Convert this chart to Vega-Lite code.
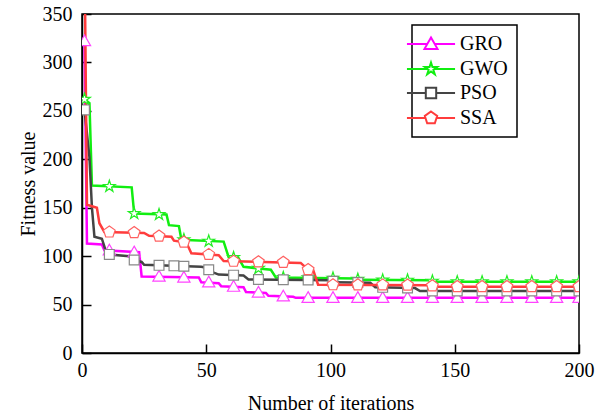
{
  "$schema": "https://vega.github.io/schema/vega-lite/v6.json",
  "width": 497,
  "height": 339,
  "autosize": {"type": "none"},
  "padding": {"left": 82, "top": 14, "right": 29, "bottom": 64},
  "background": "white",
  "config": {
    "view": {"stroke": "black", "strokeWidth": 1.5},
    "font": "Liberation Serif, Times New Roman, serif",
    "axis": {
      "domainColor": "black", "domainWidth": 1.5,
      "tickColor": "black", "tickWidth": 1.5, "tickSize": -9,
      "labelFont": "Liberation Serif, Times New Roman, serif", "labelFontSize": 20, "labelColor": "black",
      "titleFont": "Liberation Serif, Times New Roman, serif", "titleFontSize": 20, "titleFontWeight": "normal", "titleColor": "black",
      "grid": false, "labelFlush": false, "labelOverlap": false
    },
    "legend": {"strokeWidth": 1.5}
  },
  "datasets": {
    "curves": [
      {"series": "GRO", "iter": 1, "value": 322}, {"series": "GRO", "iter": 2, "value": 113}, {"series": "GRO", "iter": 8, "value": 112}, {"series": "GRO", "iter": 9, "value": 106}, {"series": "GRO", "iter": 23, "value": 104}, {"series": "GRO", "iter": 24, "value": 79}, {"series": "GRO", "iter": 47, "value": 78}, {"series": "GRO", "iter": 48, "value": 73}, {"series": "GRO", "iter": 55, "value": 72}, {"series": "GRO", "iter": 56, "value": 69}, {"series": "GRO", "iter": 65, "value": 68}, {"series": "GRO", "iter": 66, "value": 63}, {"series": "GRO", "iter": 74, "value": 62}, {"series": "GRO", "iter": 75, "value": 59}, {"series": "GRO", "iter": 85, "value": 58}, {"series": "GRO", "iter": 86, "value": 57}, {"series": "GRO", "iter": 200, "value": 57},
      {"series": "GWO", "iter": 1, "value": 262}, {"series": "GWO", "iter": 3, "value": 258}, {"series": "GWO", "iter": 4, "value": 173}, {"series": "GWO", "iter": 20, "value": 171}, {"series": "GWO", "iter": 21, "value": 144}, {"series": "GWO", "iter": 34, "value": 143}, {"series": "GWO", "iter": 35, "value": 132}, {"series": "GWO", "iter": 39, "value": 131}, {"series": "GWO", "iter": 40, "value": 117}, {"series": "GWO", "iter": 57, "value": 115}, {"series": "GWO", "iter": 59, "value": 99}, {"series": "GWO", "iter": 63, "value": 98}, {"series": "GWO", "iter": 65, "value": 89}, {"series": "GWO", "iter": 76, "value": 86}, {"series": "GWO", "iter": 78, "value": 78}, {"series": "GWO", "iter": 110, "value": 77}, {"series": "GWO", "iter": 112, "value": 75.5}, {"series": "GWO", "iter": 140, "value": 75}, {"series": "GWO", "iter": 142, "value": 73.5}, {"series": "GWO", "iter": 200, "value": 73.5},
      {"series": "PSO", "iter": 1, "value": 251}, {"series": "PSO", "iter": 3, "value": 202}, {"series": "PSO", "iter": 4, "value": 150}, {"series": "PSO", "iter": 5, "value": 120}, {"series": "PSO", "iter": 8, "value": 118}, {"series": "PSO", "iter": 10, "value": 102}, {"series": "PSO", "iter": 19, "value": 100}, {"series": "PSO", "iter": 21, "value": 96}, {"series": "PSO", "iter": 24, "value": 94}, {"series": "PSO", "iter": 25, "value": 91}, {"series": "PSO", "iter": 48, "value": 89}, {"series": "PSO", "iter": 50, "value": 88}, {"series": "PSO", "iter": 52, "value": 84}, {"series": "PSO", "iter": 55, "value": 81}, {"series": "PSO", "iter": 65, "value": 80}, {"series": "PSO", "iter": 67, "value": 76}, {"series": "PSO", "iter": 100, "value": 75}, {"series": "PSO", "iter": 102, "value": 73}, {"series": "PSO", "iter": 116, "value": 72.5}, {"series": "PSO", "iter": 118, "value": 68}, {"series": "PSO", "iter": 134, "value": 67}, {"series": "PSO", "iter": 136, "value": 64}, {"series": "PSO", "iter": 200, "value": 64},
      {"series": "SSA", "iter": 1, "value": 420}, {"series": "SSA", "iter": 2, "value": 153}, {"series": "SSA", "iter": 6, "value": 150}, {"series": "SSA", "iter": 7, "value": 134}, {"series": "SSA", "iter": 9, "value": 125}, {"series": "SSA", "iter": 25, "value": 124}, {"series": "SSA", "iter": 27, "value": 121}, {"series": "SSA", "iter": 36, "value": 120}, {"series": "SSA", "iter": 37, "value": 116}, {"series": "SSA", "iter": 42, "value": 114}, {"series": "SSA", "iter": 44, "value": 103}, {"series": "SSA", "iter": 55, "value": 101}, {"series": "SSA", "iter": 57, "value": 95}, {"series": "SSA", "iter": 88, "value": 93}, {"series": "SSA", "iter": 91, "value": 86}, {"series": "SSA", "iter": 93, "value": 86}, {"series": "SSA", "iter": 95, "value": 70.5}, {"series": "SSA", "iter": 140, "value": 70}, {"series": "SSA", "iter": 142, "value": 68.5}, {"series": "SSA", "iter": 200, "value": 68.5}
    ],
    "markers": [
      {"series": "GRO", "iter": 1, "value": 322}, {"series": "GRO", "iter": 11, "value": 106}, {"series": "GRO", "iter": 21, "value": 104}, {"series": "GRO", "iter": 31, "value": 79}, {"series": "GRO", "iter": 41, "value": 78}, {"series": "GRO", "iter": 51, "value": 73}, {"series": "GRO", "iter": 61, "value": 68.5}, {"series": "GRO", "iter": 71, "value": 62.5}, {"series": "GRO", "iter": 81, "value": 58.5}, {"series": "GRO", "iter": 91, "value": 57}, {"series": "GRO", "iter": 101, "value": 57}, {"series": "GRO", "iter": 111, "value": 57}, {"series": "GRO", "iter": 121, "value": 57}, {"series": "GRO", "iter": 131, "value": 57}, {"series": "GRO", "iter": 141, "value": 57}, {"series": "GRO", "iter": 151, "value": 57}, {"series": "GRO", "iter": 161, "value": 57}, {"series": "GRO", "iter": 171, "value": 57}, {"series": "GRO", "iter": 181, "value": 57}, {"series": "GRO", "iter": 191, "value": 57}, {"series": "GRO", "iter": 200, "value": 57},
      {"series": "GWO", "iter": 1, "value": 262}, {"series": "GWO", "iter": 11, "value": 172}, {"series": "GWO", "iter": 21, "value": 144}, {"series": "GWO", "iter": 31, "value": 143}, {"series": "GWO", "iter": 41, "value": 117}, {"series": "GWO", "iter": 51, "value": 115.5}, {"series": "GWO", "iter": 61, "value": 98.5}, {"series": "GWO", "iter": 71, "value": 87.4}, {"series": "GWO", "iter": 81, "value": 77.9}, {"series": "GWO", "iter": 91, "value": 77.6}, {"series": "GWO", "iter": 101, "value": 77.3}, {"series": "GWO", "iter": 111, "value": 76.2}, {"series": "GWO", "iter": 121, "value": 75.3}, {"series": "GWO", "iter": 131, "value": 75.2}, {"series": "GWO", "iter": 141, "value": 74.2}, {"series": "GWO", "iter": 151, "value": 73.5}, {"series": "GWO", "iter": 161, "value": 73.5}, {"series": "GWO", "iter": 171, "value": 73.5}, {"series": "GWO", "iter": 181, "value": 73.5}, {"series": "GWO", "iter": 191, "value": 73.5}, {"series": "GWO", "iter": 200, "value": 73.5},
      {"series": "PSO", "iter": 1, "value": 251}, {"series": "PSO", "iter": 11, "value": 101.8}, {"series": "PSO", "iter": 21, "value": 96}, {"series": "PSO", "iter": 31, "value": 90.5}, {"series": "PSO", "iter": 37, "value": 90}, {"series": "PSO", "iter": 41, "value": 89.6}, {"series": "PSO", "iter": 51, "value": 86}, {"series": "PSO", "iter": 61, "value": 80.4}, {"series": "PSO", "iter": 71, "value": 75.9}, {"series": "PSO", "iter": 81, "value": 75.6}, {"series": "PSO", "iter": 91, "value": 75.3}, {"series": "PSO", "iter": 101, "value": 74}, {"series": "PSO", "iter": 111, "value": 72.7}, {"series": "PSO", "iter": 121, "value": 67.8}, {"series": "PSO", "iter": 131, "value": 67.2}, {"series": "PSO", "iter": 141, "value": 64}, {"series": "PSO", "iter": 151, "value": 64}, {"series": "PSO", "iter": 161, "value": 64}, {"series": "PSO", "iter": 171, "value": 64}, {"series": "PSO", "iter": 181, "value": 64}, {"series": "PSO", "iter": 191, "value": 64}, {"series": "PSO", "iter": 200, "value": 64},
      {"series": "SSA", "iter": 1, "value": 420}, {"series": "SSA", "iter": 11, "value": 124.9}, {"series": "SSA", "iter": 21, "value": 124.2}, {"series": "SSA", "iter": 31, "value": 120.6}, {"series": "SSA", "iter": 41, "value": 114.4}, {"series": "SSA", "iter": 51, "value": 101.7}, {"series": "SSA", "iter": 61, "value": 94.7}, {"series": "SSA", "iter": 71, "value": 94.1}, {"series": "SSA", "iter": 81, "value": 93.5}, {"series": "SSA", "iter": 91, "value": 86}, {"series": "SSA", "iter": 101, "value": 70.4}, {"series": "SSA", "iter": 111, "value": 70.3}, {"series": "SSA", "iter": 121, "value": 70.2}, {"series": "SSA", "iter": 131, "value": 70.1}, {"series": "SSA", "iter": 141, "value": 69.2}, {"series": "SSA", "iter": 151, "value": 68.5}, {"series": "SSA", "iter": 161, "value": 68.5}, {"series": "SSA", "iter": 171, "value": 68.5}, {"series": "SSA", "iter": 181, "value": 68.5}, {"series": "SSA", "iter": 191, "value": 68.5}, {"series": "SSA", "iter": 200, "value": 68.5}
    ]
  },
  "resolve": {"scale": {"shape": "independent", "color": "independent"}},
  "layer": [
    {
      "data": {"name": "curves"},
      "mark": {"type": "line", "clip": true, "strokeWidth": 2.5},
      "encoding": {
        "x": {"field": "iter", "type": "quantitative", "scale": {"domain": [0, 200], "nice": false, "zero": false},
              "axis": {"values": [0, 50, 100, 150, 200], "title": "Number of iterations", "labelPadding": 16, "titlePadding": 13}},
        "y": {"field": "value", "type": "quantitative", "scale": {"domain": [0, 350], "nice": false},
              "axis": {"values": [0, 50, 100, 150, 200, 250, 300, 350], "title": "Fitness value", "labelPadding": 19, "titlePadding": 4}},
        "color": {"field": "series", "type": "nominal",
                  "scale": {"domain": ["GRO", "GWO", "PSO", "SSA"], "range": ["#FF00FF", "#11EE11", "#444444", "#FF3C3C"]},
                  "legend": null}
      }
    },
    {
      "data": {"name": "markers"},
      "mark": {"type": "point", "clip": true, "filled": false, "fill": "white", "fillOpacity": 1, "strokeWidth": 1.2, "size": 150, "opacity": 1},
      "encoding": {
        "x": {"field": "iter", "type": "quantitative"},
        "y": {"field": "value", "type": "quantitative"},
        "shape": {"field": "series", "type": "nominal",
                  "scale": {"domain": ["GRO", "GWO", "PSO", "SSA"],
                            "range": ["M0,-1L1,0.75L-1,0.75Z",
                                      "M0,-1L0.2245,-0.309L0.951,-0.309L0.363,0.118L0.588,0.809L0,0.382L-0.588,0.809L-0.363,0.118L-0.951,-0.309L-0.2245,-0.309Z",
                                      "M-0.8,-0.8H0.8V0.8H-0.8Z",
                                      "M0,-1L0.951,-0.309L0.588,0.809L-0.588,0.809L-0.951,-0.309Z"]},
                  "legend": null},
        "stroke": {"field": "series", "type": "nominal",
                   "scale": {"domain": ["GRO", "GWO", "PSO", "SSA"], "range": ["#FF44FF", "#22EE22", "#888888", "#FF6060"]},
                   "legend": null}
      }
    },
    {
      "data": {"name": "markers"},
      "transform": [{"filter": "datum.iter == 200"}],
      "mark": {"type": "point", "filled": false, "opacity": 0, "size": 169, "strokeWidth": 2},
      "encoding": {
        "x": {"field": "iter", "type": "quantitative"},
        "y": {"field": "value", "type": "quantitative"},
        "shape": {"field": "series", "type": "nominal",
                  "scale": {"domain": ["GRO", "GWO", "PSO", "SSA"],
                            "range": ["M-3.7,0H-0.57M0.57,0H3.7M0,-1L1,0.75L-1,0.75Z",
                                      "M-3.7,0H-0.53M0.53,0H3.7M0,-1L0.2245,-0.309L0.951,-0.309L0.363,0.118L0.588,0.809L0,0.382L-0.588,0.809L-0.363,0.118L-0.951,-0.309L-0.2245,-0.309Z",
                                      "M-3.7,0H-0.8M0.8,0H3.7M-0.8,-0.8H0.8V0.8H-0.8Z",
                                      "M-3.7,0H-0.85M0.85,0H3.7M0,-1L0.951,-0.309L0.588,0.809L-0.588,0.809L-0.951,-0.309Z"]},
                  "legend": {"title": null, "orient": "none", "legendX": 330, "legendY": 11, "strokeColor": "black", "padding": 9,
                             "symbolSize": 169, "symbolStrokeWidth": 2, "symbolOpacity": 1, "labelFont": "Liberation Serif, Times New Roman, serif", "labelFontSize": 20,
                             "labelColor": "black", "labelOffset": 19, "rowPadding": 4}},
        "color": {"field": "series", "type": "nominal",
                  "scale": {"domain": ["GRO", "GWO", "PSO", "SSA"], "range": ["#FF00FF", "#11EE11", "#444444", "#FF3C3C"]},
                  "legend": {"title": null, "orient": "none", "legendX": 330, "legendY": 11, "strokeColor": "black", "padding": 9,
                             "symbolSize": 169, "symbolStrokeWidth": 2, "symbolOpacity": 1, "labelFont": "Liberation Serif, Times New Roman, serif", "labelFontSize": 20,
                             "labelColor": "black", "labelOffset": 19, "rowPadding": 4}}
      }
    }
  ]
}
